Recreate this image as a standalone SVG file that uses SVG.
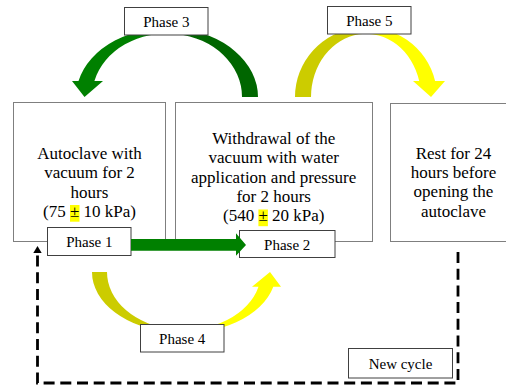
<svg xmlns="http://www.w3.org/2000/svg" width="506" height="385" viewBox="0 0 506 385">
<style>
.box{fill:#fff;stroke:#7f7f7f;stroke-width:1}
.lbl{fill:#fff;stroke:#404040;stroke-width:1}
.t{font-size:17px;fill:#000;text-anchor:middle}
.tl{font-size:15px;fill:#000;text-anchor:middle}
.hl{fill:#ffff00}
</style>
<defs>
<linearGradient id="g3" gradientUnits="userSpaceOnUse" x1="72" y1="0" x2="258" y2="0">
<stop offset="0" stop-color="#008000"/><stop offset="0.5" stop-color="#008000"/><stop offset="0.5" stop-color="#006600"/><stop offset="1" stop-color="#006600"/>
</linearGradient>
<linearGradient id="g5" gradientUnits="userSpaceOnUse" x1="295" y1="0" x2="445" y2="0">
<stop offset="0" stop-color="#cccc00"/><stop offset="0.5" stop-color="#cccc00"/><stop offset="0.5" stop-color="#ffff00"/><stop offset="1" stop-color="#ffff00"/>
</linearGradient>
<linearGradient id="g4" gradientUnits="userSpaceOnUse" x1="92" y1="0" x2="281" y2="0">
<stop offset="0" stop-color="#cccc00"/><stop offset="0.487" stop-color="#cccc00"/><stop offset="0.487" stop-color="#ffff00"/><stop offset="1" stop-color="#ffff00"/>
</linearGradient>
</defs>

<g font-family="Liberation Serif, Tinos, Times New Roman, Nimbus Roman, DejaVu Serif, serif">
<g id="node-autoclave">
<rect class="box" x="13.5" y="102.5" width="152" height="139"/>
<rect class="hl" x="70" y="205" width="9.5" height="16.7"/>
<text class="t" x="89.5" y="159.2">Autoclave with</text>
<text class="t" x="89.5" y="178.4">vacuum for 2</text>
<text class="t" x="89.5" y="197.6">hours</text>
<text class="t" x="89.5" y="216.8">(75 ± 10 kPa)</text>
</g>

<g id="node-withdrawal">
<rect class="box" x="175.5" y="102.5" width="197" height="139"/>
<rect class="hl" x="258.4" y="209.5" width="9.5" height="16.7"/>
<text class="t" x="273.7" y="143.5">Withdrawal of the</text>
<text class="t" x="273.7" y="163">vacuum with water</text>
<text class="t" x="273.7" y="182.5">application and pressure</text>
<text class="t" x="273.7" y="202">for 2 hours</text>
<text class="t" x="273.7" y="221.3">(540 ± 20 kPa)</text>
</g>

<g id="node-rest">
<rect class="box" x="390.5" y="103.5" width="127" height="138"/>
<text class="t" x="453.5" y="159">Rest for 24</text>
<text class="t" x="453.5" y="178.2">hours before</text>
<text class="t" x="453.5" y="197.4">opening the</text>
<text class="t" x="453.5" y="216.6">autoclave</text>
</g>

<g id="connectors">
<path id="arrow-phase3" fill="url(#g3)" d="M258,97 A91,69 0 0 0 78.5,81 L72,81 L84.5,97 L103,81 L94.4,81 A75,63.5 0 0 1 242,97 Z"/>
<path id="arrow-phase5" fill="url(#g5)" d="M295,97 A71,70 0 0 1 435.1,81 L445,81 L431,97 L413,81 L419.2,81 A55,63.3 0 0 0 311,97 Z"/>
<path id="arrow-phase4" fill="url(#g4)" d="M92,272 A92,61 0 0 0 273.3,286.7 L281,286.7 L270,272 L252,286.7 L258.5,286.7 A77,58 0 0 1 107,272 Z"/>
<path id="new-cycle" d="M458,252 L458,383 L37.5,383 L37.5,253" fill="none" stroke="#000" stroke-width="2.8" stroke-dasharray="11 5.7"/>
<path d="M33.3,253 L37.5,246 L41.7,253 Z" fill="#000"/>
</g>

<g id="label-phase1">
<rect class="lbl" x="47.5" y="227.5" width="83.5" height="28"/>
<text class="tl" x="89.3" y="247">Phase 1</text>
</g>
<g id="label-phase2">
<rect class="lbl" x="239.5" y="230.5" width="95.5" height="27"/>
<text class="tl" x="287.2" y="249.5">Phase 2</text>
</g>
<g id="label-phase3">
<rect class="lbl" x="124.5" y="7.5" width="83.5" height="27.5"/>
<text class="tl" x="166.3" y="26.8">Phase 3</text>
</g>
<g id="label-phase4">
<rect class="lbl" x="140.5" y="324.5" width="83.5" height="27.5"/>
<text class="tl" x="182.2" y="344">Phase 4</text>
</g>
<g id="label-phase5">
<rect class="lbl" x="327.5" y="6.5" width="83.5" height="27.5"/>
<text class="tl" x="369.3" y="26">Phase 5</text>
</g>
<g id="label-newcycle">
<rect class="lbl" x="348.5" y="348.5" width="104" height="29.5"/>
<text class="tl" x="400.5" y="368.5">New cycle</text>
</g>

<g id="connector-phase1">
<path d="M131,239 L236,239 L236,233.3 L246,245 L236,255.7 L236,250.7 L131,250.7 Z" fill="#008000"/>
</g>
</g>
</svg>
